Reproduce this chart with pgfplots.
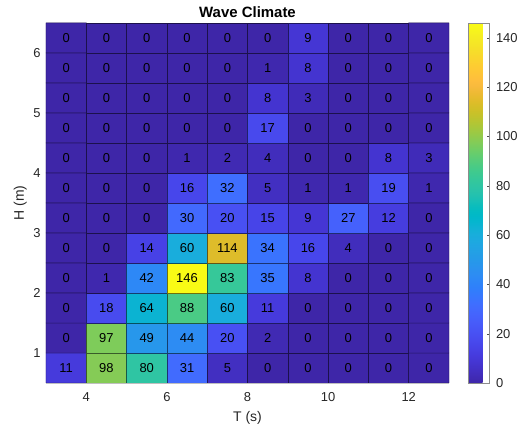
\documentclass[border=0pt]{standalone}
\usepackage{pgfplots}
\pgfplotsset{compat=1.18}
\usepackage{pgfplotstable}
\usepackage{fontspec}
\setmainfont{Liberation Sans}
\pgfplotsset{colormap={parula}{
rgb=(0.2422,0.1504,0.6603) rgb=(0.2504,0.1650,0.7076) rgb=(0.2578,0.1818,0.7511) rgb=(0.2647,0.1978,0.7952)
rgb=(0.2706,0.2147,0.8364) rgb=(0.2751,0.2342,0.8710) rgb=(0.2783,0.2559,0.8991) rgb=(0.2803,0.2782,0.9221)
rgb=(0.2813,0.3006,0.9414) rgb=(0.2810,0.3228,0.9579) rgb=(0.2795,0.3447,0.9717) rgb=(0.2760,0.3667,0.9829)
rgb=(0.2699,0.3892,0.9906) rgb=(0.2602,0.4123,0.9952) rgb=(0.2440,0.4358,0.9988) rgb=(0.2206,0.4603,0.9973)
rgb=(0.1963,0.4847,0.9892) rgb=(0.1834,0.5074,0.9798) rgb=(0.1786,0.5289,0.9682) rgb=(0.1764,0.5499,0.9520)
rgb=(0.1687,0.5703,0.9359) rgb=(0.1540,0.5902,0.9218) rgb=(0.1460,0.6091,0.9079) rgb=(0.1380,0.6276,0.8973)
rgb=(0.1248,0.6459,0.8883) rgb=(0.1113,0.6635,0.8763) rgb=(0.0952,0.6798,0.8598) rgb=(0.0689,0.6948,0.8394)
rgb=(0.0297,0.7082,0.8163) rgb=(0.0036,0.7203,0.7917) rgb=(0.0067,0.7312,0.7660) rgb=(0.0433,0.7411,0.7394)
rgb=(0.0964,0.7500,0.7120) rgb=(0.1408,0.7584,0.6842) rgb=(0.1717,0.7670,0.6554) rgb=(0.1938,0.7758,0.6251)
rgb=(0.2161,0.7843,0.5923) rgb=(0.2470,0.7918,0.5567) rgb=(0.2906,0.7973,0.5188) rgb=(0.3406,0.8008,0.4789)
rgb=(0.3909,0.8029,0.4354) rgb=(0.4456,0.8024,0.3909) rgb=(0.5044,0.7993,0.3480) rgb=(0.5616,0.7942,0.3045)
rgb=(0.6174,0.7876,0.2612) rgb=(0.6720,0.7793,0.2227) rgb=(0.7242,0.7698,0.1910) rgb=(0.7738,0.7598,0.1646)
rgb=(0.8203,0.7498,0.1535) rgb=(0.8634,0.7406,0.1596) rgb=(0.9035,0.7330,0.1774) rgb=(0.9393,0.7288,0.2100)
rgb=(0.9728,0.7298,0.2394) rgb=(0.9956,0.7434,0.2371) rgb=(0.9970,0.7659,0.2199) rgb=(0.9952,0.7893,0.2028)
rgb=(0.9892,0.8136,0.1885) rgb=(0.9786,0.8386,0.1766) rgb=(0.9676,0.8639,0.1643) rgb=(0.9610,0.8890,0.1537)
rgb=(0.9597,0.9135,0.1423) rgb=(0.9628,0.9373,0.1265) rgb=(0.9691,0.9606,0.1064) rgb=(0.9769,0.9839,0.0805)
}}
\pgfplotstableread{
x y C
3.5 0.75 11
4.5 0.75 98
5.5 0.75 80
6.5 0.75 31
7.5 0.75 5
8.5 0.75 0
9.5 0.75 0
10.5 0.75 0
11.5 0.75 0
12.5 0.75 0
3.5 1.25 0
4.5 1.25 97
5.5 1.25 49
6.5 1.25 44
7.5 1.25 20
8.5 1.25 2
9.5 1.25 0
10.5 1.25 0
11.5 1.25 0
12.5 1.25 0
3.5 1.75 0
4.5 1.75 18
5.5 1.75 64
6.5 1.75 88
7.5 1.75 60
8.5 1.75 11
9.5 1.75 0
10.5 1.75 0
11.5 1.75 0
12.5 1.75 0
3.5 2.25 0
4.5 2.25 1
5.5 2.25 42
6.5 2.25 146
7.5 2.25 83
8.5 2.25 35
9.5 2.25 8
10.5 2.25 0
11.5 2.25 0
12.5 2.25 0
3.5 2.75 0
4.5 2.75 0
5.5 2.75 14
6.5 2.75 60
7.5 2.75 114
8.5 2.75 34
9.5 2.75 16
10.5 2.75 4
11.5 2.75 0
12.5 2.75 0
3.5 3.25 0
4.5 3.25 0
5.5 3.25 0
6.5 3.25 30
7.5 3.25 20
8.5 3.25 15
9.5 3.25 9
10.5 3.25 27
11.5 3.25 12
12.5 3.25 0
3.5 3.75 0
4.5 3.75 0
5.5 3.75 0
6.5 3.75 16
7.5 3.75 32
8.5 3.75 5
9.5 3.75 1
10.5 3.75 1
11.5 3.75 19
12.5 3.75 1
3.5 4.25 0
4.5 4.25 0
5.5 4.25 0
6.5 4.25 1
7.5 4.25 2
8.5 4.25 4
9.5 4.25 0
10.5 4.25 0
11.5 4.25 8
12.5 4.25 3
3.5 4.75 0
4.5 4.75 0
5.5 4.75 0
6.5 4.75 0
7.5 4.75 0
8.5 4.75 17
9.5 4.75 0
10.5 4.75 0
11.5 4.75 0
12.5 4.75 0
3.5 5.25 0
4.5 5.25 0
5.5 5.25 0
6.5 5.25 0
7.5 5.25 0
8.5 5.25 8
9.5 5.25 3
10.5 5.25 0
11.5 5.25 0
12.5 5.25 0
3.5 5.75 0
4.5 5.75 0
5.5 5.75 0
6.5 5.75 0
7.5 5.75 0
8.5 5.75 1
9.5 5.75 8
10.5 5.75 0
11.5 5.75 0
12.5 5.75 0
3.5 6.25 0
4.5 6.25 0
5.5 6.25 0
6.5 6.25 0
7.5 6.25 0
8.5 6.25 0
9.5 6.25 9
10.5 6.25 0
11.5 6.25 0
12.5 6.25 0
}\wavedata
\begin{document}
\begin{tikzpicture}
\useasboundingbox (-46bp,-52bp) rectangle (478bp,383bp);
\begin{axis}[
  at={(0,0)}, anchor=south west,
  scale only axis,
  width=403bp, height=360bp,
  xmin=3, xmax=13, ymin=0.5, ymax=6.5,
  enlargelimits=false,
  axis x line*=bottom, axis y line*=left,
  xtick={4,6,8,10,12}, ytick={1,2,3,4,5,6},
  major tick length=0pt,
  /pgf/number format/assume math mode=true,
  tick label style={font=\fontsize{13}{15}\selectfont, text=black!85},
  xticklabel style={anchor=center, yshift=-14bp},
  yticklabel style={anchor=east, xshift=-2bp},
  axis line style={draw=black!25, -},
  title={\textbf{Wave Climate}},
  every axis title/.style={font=\fontsize{15}{17}\selectfont, at={(axis description cs:0.5,1.0306)}, anchor=center},
  xlabel={T (s)}, ylabel={H (m)},
  every axis x label/.style={font=\fontsize{14}{16}\selectfont, text=black!85, at={(axis description cs:0.5,-0.0958)}, anchor=center},
  every axis y label/.style={font=\fontsize{14}{16}\selectfont, text=black!85, at={(axis description cs:-0.064,0.5)}, anchor=center, rotate=90},
  colormap name=parula,
  point meta min=0, point meta max=146,
  colorbar,
  colorbar style={
    at={(parent axis.north east)}, anchor=north west, xshift=11bp,
    scale only axis, width=21bp, height=360bp,
    ytick={0,20,...,140},
    ytick pos=right, yticklabel pos=right,
    tick align=inside, major tick length=3bp,
    tick style={draw=black!70},
    axis line style={draw=black!45},
    yticklabel style={font=\fontsize{13}{15}\selectfont, text=black!85, anchor=west, xshift=3bp},
    /pgf/number format/assume math mode=true,
  },
]
\addplot[matrix plot*, mesh/cols=10, point meta=explicit, shader=faceted, faceted color=mapped color!45!black, line width=0.5pt]
  table[x=x, y=y, meta=C]{\wavedata};
\addplot[draw=none, mark=none, point meta=explicit,
  nodes near coords, nodes near coords align=center,
  every node near coord/.append style={font=\fontsize{13}{15}\selectfont, text=black, anchor=center, inner sep=0pt}]
  table[x=x, y=y, meta=C]{\wavedata};
\end{axis}
\end{tikzpicture}
\end{document}
